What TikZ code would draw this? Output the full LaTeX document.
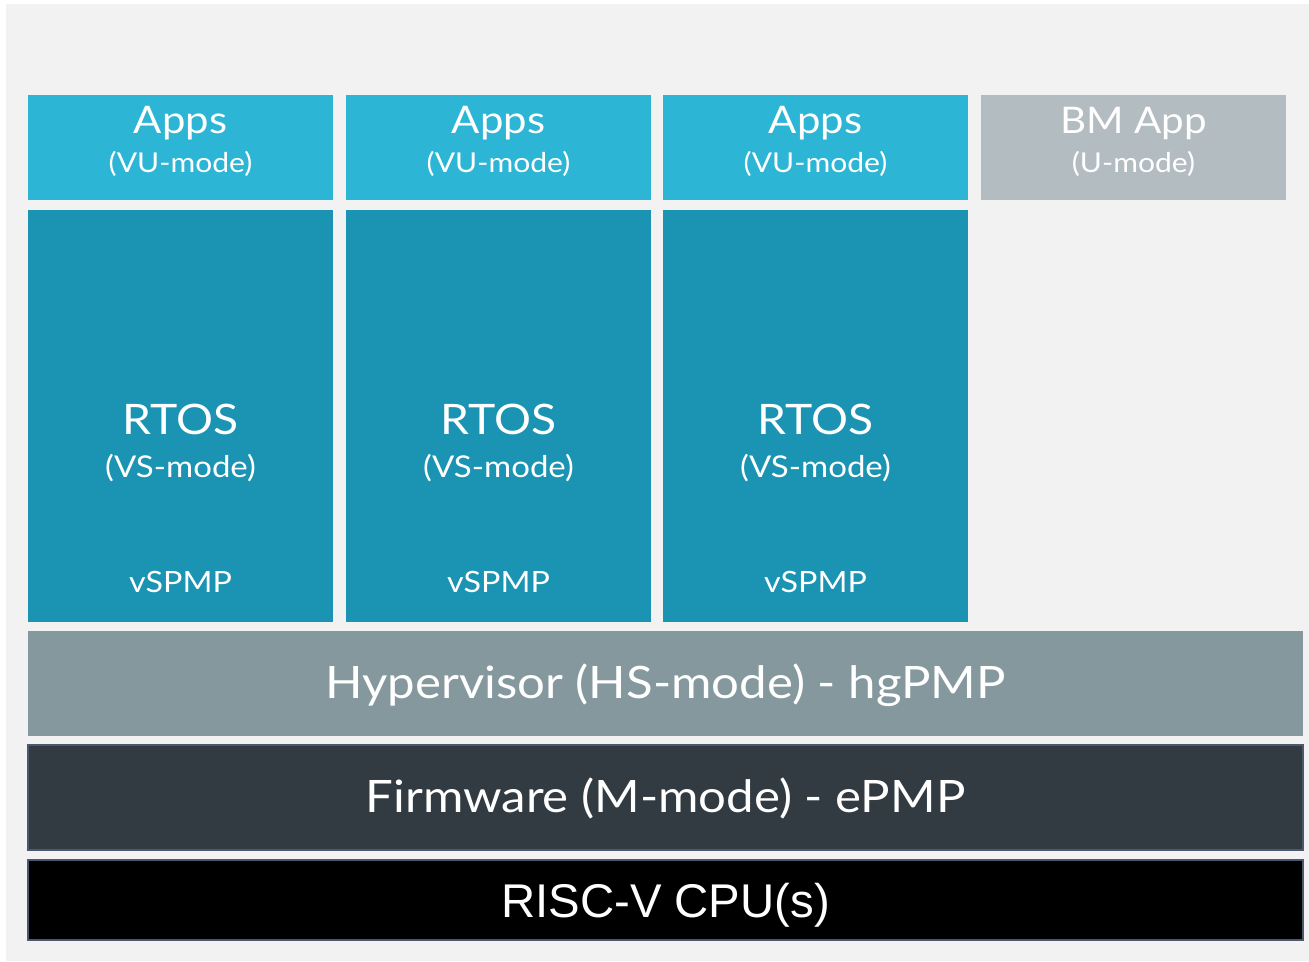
\documentclass[tikz,border=0pt]{standalone}
\usepackage{fontspec}
\setmainfont{Lato}[FakeStretch=1.1]
\newfontfamily\cpufont{Liberation Sans}
\definecolor{bgc}{HTML}{F2F2F2}
\definecolor{appc}{HTML}{2DB5D6}
\definecolor{rtosc}{HTML}{1A94B2}
\definecolor{bmc}{HTML}{B2BCC1}
\definecolor{hypc}{HTML}{84989E}
\definecolor{fwc}{HTML}{313B41}
\definecolor{edgec}{HTML}{4A5870}
\tikzset{
  box/.style={inner sep=0pt, outer sep=0pt, draw=none},
  appbox/.style={box, fill=appc, minimum width=228.75pt, minimum height=78.75pt},
  bmbox/.style={box, fill=bmc, minimum width=228.75pt, minimum height=78.75pt},
  rtosbox/.style={box, fill=rtosc, minimum width=228.75pt, minimum height=309pt},
  widebox/.style={box, minimum width=956.25pt, minimum height=78.75pt},
  lbl/.style={anchor=base, text=white, inner sep=0pt},
  big/.style={lbl, font=\fontsize{28.5}{32}\selectfont},
  small/.style={lbl, font=\fontsize{20.5}{24}\selectfont},
}
\begin{document}
\begin{tikzpicture}[x=0.75pt, y=-0.75pt]
\useasboundingbox (0,0) rectangle (1309,961);
\fill[bgc] (6,4) rectangle (1309,961);

% guest application layer
\foreach \n/\cx in {1/180.5, 2/498.5, 3/815.5} {
  \node[appbox] (app\n) at (\cx,147.5) {};
  \node[big] (apptitle\n) at (\cx,133) {Apps};
  \node[small] (appmode\n) at (\cx,172) {(VU-mode)};
  \node[rtosbox] (rtos\n) at (\cx,416) {};
  \node[lbl, font=\fontsize{31.5}{35}\selectfont] (rtostitle\n) at (\cx,434) {RTOS};
  \node[lbl, font=\fontsize{22.5}{26}\selectfont] (rtosmode\n) at (\cx,477) {(VS-mode)};
  \node[lbl, font=\fontsize{22}{26}\selectfont] (vspmp\n) at (\cx,592) {vSPMP};
}
\node[bmbox] (bm) at (1133.5,147.5) {};
\node[big, font=\fontsize{27.5}{31}\selectfont] (bmtitle) at (1133.5,133) {BM App};
\node[small] (bmmode) at (1133.5,172) {(U-mode)};

% privileged layers
\node[widebox, fill=hypc] (hyp) at (665.5,683.5) {};
\node[lbl, font=\fontsize{33.5}{38}\selectfont] (hyptext) at (665.5,698) {Hypervisor (HS-mode) - hgPMP};

\node[widebox, fill=fwc, draw=edgec, line width=1.2pt] (fw) at (665.5,797.5) {};
\node[lbl, font=\fontsize{33.5}{38}\selectfont] (fwtext) at (665.5,812) {Firmware (M-mode) - ePMP};

\node[widebox, fill=black, draw=edgec, line width=1.2pt, minimum height=60pt] (cpu) at (665.5,900) {};
\node[lbl, font=\cpufont\fontsize{35.5}{40}\selectfont] (cputext) at (665.5,917) {RISC-V CPU(s)};
\end{tikzpicture}
\end{document}
